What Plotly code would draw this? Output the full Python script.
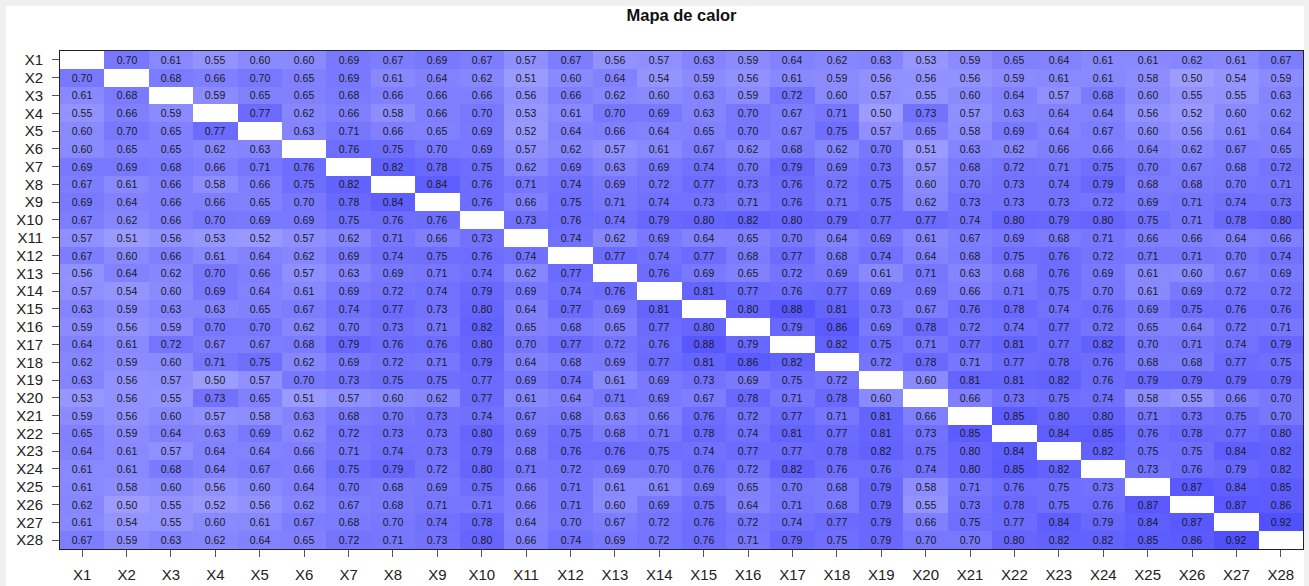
import numpy as np
import plotly.graph_objects as go

labels = [f"X{i}" for i in range(1, 29)]

# upper triangle rows: row i gives correlations with X(i+1)..X28
upper_rows = [
    [0.70,0.61,0.55,0.60,0.60,0.69,0.67,0.69,0.67,0.57,0.67,0.56,0.57,0.63,0.59,0.64,0.62,0.63,0.53,0.59,0.65,0.64,0.61,0.61,0.62,0.61,0.67],
    [0.68,0.66,0.70,0.65,0.69,0.61,0.64,0.62,0.51,0.60,0.64,0.54,0.59,0.56,0.61,0.59,0.56,0.56,0.56,0.59,0.61,0.61,0.58,0.50,0.54,0.59],
    [0.59,0.65,0.65,0.68,0.66,0.66,0.66,0.56,0.66,0.62,0.60,0.63,0.59,0.72,0.60,0.57,0.55,0.60,0.64,0.57,0.68,0.60,0.55,0.55,0.63],
    [0.77,0.62,0.66,0.58,0.66,0.70,0.53,0.61,0.70,0.69,0.63,0.70,0.67,0.71,0.50,0.73,0.57,0.63,0.64,0.64,0.56,0.52,0.60,0.62],
    [0.63,0.71,0.66,0.65,0.69,0.52,0.64,0.66,0.64,0.65,0.70,0.67,0.75,0.57,0.65,0.58,0.69,0.64,0.67,0.60,0.56,0.61,0.64],
    [0.76,0.75,0.70,0.69,0.57,0.62,0.57,0.61,0.67,0.62,0.68,0.62,0.70,0.51,0.63,0.62,0.66,0.66,0.64,0.62,0.67,0.65],
    [0.82,0.78,0.75,0.62,0.69,0.63,0.69,0.74,0.70,0.79,0.69,0.73,0.57,0.68,0.72,0.71,0.75,0.70,0.67,0.68,0.72],
    [0.84,0.76,0.71,0.74,0.69,0.72,0.77,0.73,0.76,0.72,0.75,0.60,0.70,0.73,0.74,0.79,0.68,0.68,0.70,0.71],
    [0.76,0.66,0.75,0.71,0.74,0.73,0.71,0.76,0.71,0.75,0.62,0.73,0.73,0.73,0.72,0.69,0.71,0.74,0.73],
    [0.73,0.76,0.74,0.79,0.80,0.82,0.80,0.79,0.77,0.77,0.74,0.80,0.79,0.80,0.75,0.71,0.78,0.80],
    [0.74,0.62,0.69,0.64,0.65,0.70,0.64,0.69,0.61,0.67,0.69,0.68,0.71,0.66,0.66,0.64,0.66],
    [0.77,0.74,0.77,0.68,0.77,0.68,0.74,0.64,0.68,0.75,0.76,0.72,0.71,0.71,0.70,0.74],
    [0.76,0.69,0.65,0.72,0.69,0.61,0.71,0.63,0.68,0.76,0.69,0.61,0.60,0.67,0.69],
    [0.81,0.77,0.76,0.77,0.69,0.69,0.66,0.71,0.75,0.70,0.61,0.69,0.72,0.72],
    [0.80,0.88,0.81,0.73,0.67,0.76,0.78,0.74,0.76,0.69,0.75,0.76,0.76],
    [0.79,0.86,0.69,0.78,0.72,0.74,0.77,0.72,0.65,0.64,0.72,0.71],
    [0.82,0.75,0.71,0.77,0.81,0.77,0.82,0.70,0.71,0.74,0.79],
    [0.72,0.78,0.71,0.77,0.78,0.76,0.68,0.68,0.77,0.75],
    [0.60,0.81,0.81,0.82,0.76,0.79,0.79,0.79,0.79],
    [0.66,0.73,0.75,0.74,0.58,0.55,0.66,0.70],
    [0.85,0.80,0.80,0.71,0.73,0.75,0.70],
    [0.84,0.85,0.76,0.78,0.77,0.80],
    [0.82,0.75,0.75,0.84,0.82],
    [0.73,0.76,0.79,0.82],
    [0.87,0.84,0.85],
    [0.87,0.86],
    [0.92],
]

n = len(labels)
z = np.full((n, n), np.nan)
for i, row in enumerate(upper_rows):
    for k, v in enumerate(row):
        j = i + 1 + k
        z[i, j] = v
        z[j, i] = v

text = [["" if np.isnan(z[i, j]) else f"{z[i, j]:.2f}" for j in range(n)] for i in range(n)]

fig = go.Figure(go.Heatmap(
    z=z, x=labels, y=labels, text=text, texttemplate="%{text}",
    textfont=dict(family="Liberation Sans, Arial", size=10.5, color="#1a1a1a"),
    colorscale=[[0, "rgb(245,245,255)"], [1, "rgb(66,66,255)"]],
    zmin=0, zmax=1, showscale=False, xgap=0, ygap=0, hoverongaps=False,
))

W, H = 1309, 586
ml, mr, mt, mb = 60, 6, 51, 37
fig.update_layout(
    width=W, height=H,
    margin=dict(l=ml, r=mr, t=mt, b=mb, autoexpand=False),
    paper_bgcolor="#f0f0f0", plot_bgcolor="white",
    font=dict(family="Liberation Sans, Arial", size=15, color="#222"),
    title=dict(text="<b>Mapa de calor</b>", x=0.5, xref="paper", y=1 - 15 / H,
               yref="container", xanchor="center", yanchor="middle",
               font=dict(size=16.5, color="#111")),
)
pw, ph = W - ml - mr, H - mt - mb
fig.add_shape(type="rect", xref="paper", yref="paper", layer="below",
              x0=(6 - ml) / pw, x1=(1304 - ml) / pw,
              y0=(H - mb - 600) / ph, y1=(H - mb - 6) / ph,
              fillcolor="white", line=dict(width=0))
fig.update_xaxes(tickmode="array", tickvals=labels, ticktext=labels, automargin=False,
                 showline=True, linecolor="#222", linewidth=1, mirror=True,
                 ticks="outside", ticklen=7, tickcolor="#555",
                 ticklabelstandoff=5, showgrid=False, zeroline=False)
fig.update_yaxes(tickmode="array", tickvals=labels, ticktext=labels, automargin=False,
                 autorange="reversed", showline=True, linecolor="#222", linewidth=1,
                 mirror=True, ticks="outside", ticklen=7, tickcolor="#555",
                 ticklabelstandoff=6, showgrid=False, zeroline=False)

fig.write_html(
    "out.html",
    config={"displayModeBar": False},
    post_script="document.body.style.margin='0';document.body.style.overflow='hidden';",
)
